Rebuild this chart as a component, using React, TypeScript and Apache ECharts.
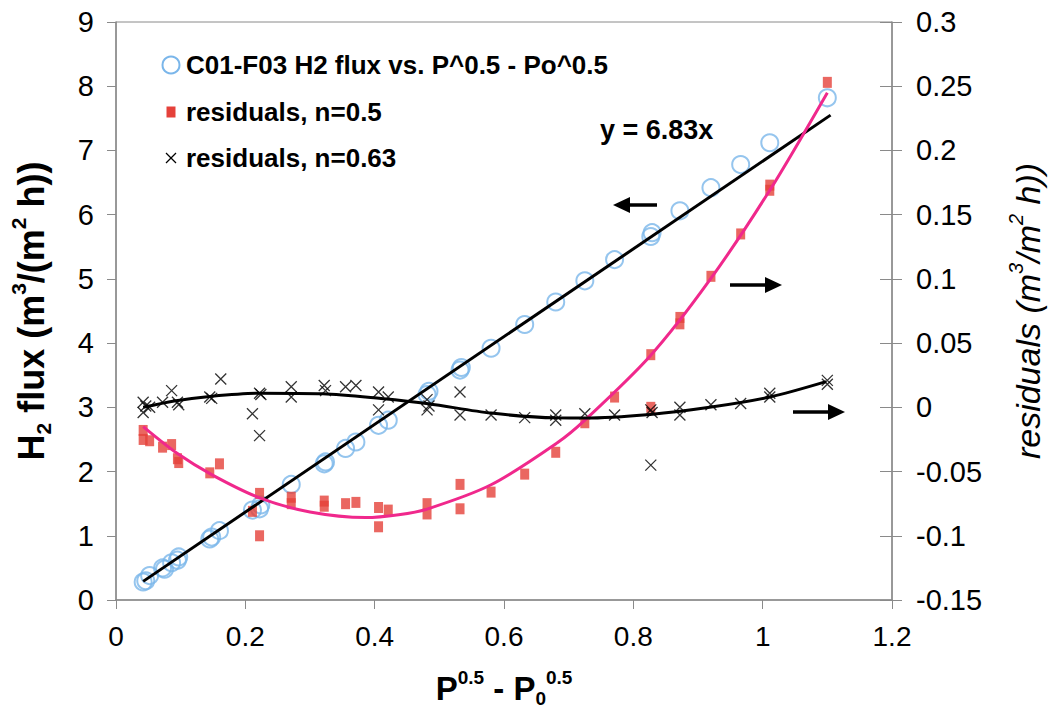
import React, { useEffect, useRef } from "react";
import * as echarts from "echarts";

// ---- Data ----
// H2 flux vs P^0.5 - Po^0.5 (left axis)
const fluxX = [0.042, 0.046, 0.052, 0.072, 0.075, 0.086, 0.095, 0.097, 0.145, 0.148, 0.160, 0.211, 0.222, 0.224, 0.271, 0.322, 0.324, 0.355, 0.371, 0.406, 0.421, 0.481, 0.484, 0.532, 0.534, 0.580, 0.632, 0.680, 0.725, 0.771, 0.827, 0.829, 0.872, 0.920, 0.966, 1.011, 1.100];
const fluxY = [0.28, 0.30, 0.38, 0.50, 0.48, 0.58, 0.62, 0.67, 0.95, 0.98, 1.08, 1.40, 1.42, 1.48, 1.80, 2.12, 2.15, 2.36, 2.46, 2.72, 2.80, 3.20, 3.25, 3.58, 3.62, 3.92, 4.29, 4.64, 4.97, 5.30, 5.66, 5.72, 6.06, 6.42, 6.78, 7.12, 7.82];

// residuals, n=0.5 (right axis)
const res5X = [0.042, 0.042, 0.052, 0.072, 0.086, 0.095, 0.097, 0.145, 0.160, 0.211, 0.222, 0.222, 0.271, 0.271, 0.322, 0.322, 0.355, 0.371, 0.406, 0.406, 0.421, 0.481, 0.481, 0.532, 0.532, 0.580, 0.632, 0.680, 0.725, 0.771, 0.827, 0.827, 0.872, 0.872, 0.920, 0.966, 1.011, 1.011, 1.100];
const res5Y = [-0.018, -0.025, -0.026, -0.031, -0.029, -0.040, -0.043, -0.051, -0.044, -0.081, -0.100, -0.067, -0.070, -0.075, -0.073, -0.077, -0.075, -0.074, -0.078, -0.093, -0.080, -0.075, -0.083, -0.060, -0.079, -0.066, -0.052, -0.035, -0.012, 0.008, 0.041, 0.000, 0.070, 0.065, 0.102, 0.135, 0.173, 0.169, 0.253];

// residuals, n=0.63 (right axis)
const res63X = [0.042, 0.042, 0.046, 0.052, 0.072, 0.086, 0.095, 0.097, 0.145, 0.148, 0.162, 0.211, 0.222, 0.222, 0.224, 0.271, 0.271, 0.322, 0.324, 0.355, 0.371, 0.406, 0.406, 0.421, 0.481, 0.481, 0.484, 0.532, 0.532, 0.580, 0.632, 0.680, 0.680, 0.725, 0.771, 0.827, 0.827, 0.829, 0.872, 0.872, 0.920, 0.966, 1.011, 1.011, 1.100, 1.100];
const res63Y = [0.004, -0.004, 0.001, 0.000, 0.004, 0.013, 0.004, 0.002, 0.008, 0.007, 0.022, -0.005, -0.022, 0.011, 0.010, 0.016, 0.008, 0.017, 0.013, 0.016, 0.017, 0.012, -0.002, 0.008, 0.006, -0.002, 0.001, 0.012, -0.006, -0.006, -0.008, -0.006, -0.010, -0.005, -0.006, -0.002, -0.045, -0.004, 0.000, -0.006, 0.002, 0.003, 0.011, 0.008, 0.021, 0.018];

// linear trend line y = 6.83x (end points)
const linX = [0.042, 1.105];
const linY = [0.29, 7.55];

// fitted curve through residuals n=0.5
const fit5X = [0.042, 0.095, 0.15, 0.222, 0.30, 0.386, 0.437, 0.48, 0.58, 0.683, 0.725, 0.826, 0.918, 1.011, 1.10];
const fit5Y = [-0.015, -0.036, -0.053, -0.0705, -0.0815, -0.0858, -0.0836, -0.0794, -0.0603, -0.0274, -0.010, 0.040, 0.099, 0.169, 0.245];

// fitted curve through residuals n=0.63
const fit63X = [0.042, 0.09, 0.145, 0.222, 0.32, 0.41, 0.483, 0.58, 0.68, 0.725, 0.826, 0.918, 1.011, 1.098];
const fit63Y = [0.000, 0.005, 0.0085, 0.011, 0.0105, 0.0068, 0.0028, -0.0045, -0.0082, -0.0083, -0.0055, 0.000, 0.008, 0.020];

const legendNames = [
  "C01-F03 H2 flux vs. P^0.5 - Po^0.5",
  "residuals, n=0.5",
  "residuals, n=0.63",
];
const trendLabel = "y = 6.83x";

const zip = (xs: number[], ys: number[]) => xs.map((x, i) => [x, ys[i]]);

const AXIS_GRAY = "#8a8a8a";
const BLUE = "#7ab6ea";
const RED = "#e5413a";
const PINK = "#f0288c";
const SANS = "'Liberation Sans', Arial, sans-serif";

export default function App() {
  const ref = useRef<HTMLDivElement>(null);

  useEffect(() => {
    if (!ref.current) return;
    const chart = echarts.init(ref.current, undefined, { renderer: "svg" });

    const fmt = (v: number) => String(parseFloat(v.toFixed(2)));

    const option: any = {
      animation: false,
      backgroundColor: "#ffffff",
      grid: {
        left: 116,
        right: 163,
        top: 22,
        bottom: 116,
        containLabel: false,
        outerBoundsMode: "none",
        show: true,
        borderColor: AXIS_GRAY,
        borderWidth: 1,
        backgroundColor: "transparent",
      },
      xAxis: {
        type: "value",
        min: 0,
        max: 1.2,
        interval: 0.2,
        axisLine: { show: true, onZero: false, lineStyle: { color: AXIS_GRAY, width: 1.5 } },
        axisTick: { show: true, length: 9, lineStyle: { color: AXIS_GRAY } },
        splitLine: { show: false },
        axisLabel: { margin: 22, color: "#000", fontSize: 28, fontFamily: SANS, formatter: fmt },
        name: "{b|P}{sup|0.5}{b| - P}{sub|0}{sup|0.5}",
        nameLocation: "middle",
        nameGap: 68,
        nameTextStyle: {
          color: "#000",
          rich: {
            b: { fontSize: 33, fontWeight: "bold", fontFamily: SANS, color: "#000", lineHeight: 40 },
            sup: { fontSize: 19, fontWeight: "bold", fontFamily: SANS, color: "#000", verticalAlign: "top" },
            sub: { fontSize: 19, fontWeight: "bold", fontFamily: SANS, color: "#000", verticalAlign: "bottom" },
          },
        },
      },
      yAxis: [
        {
          type: "value",
          position: "left",
          min: 0,
          max: 9,
          interval: 1,
          axisLine: { show: true, lineStyle: { color: AXIS_GRAY, width: 1.5 } },
          axisTick: { show: true, length: 9, lineStyle: { color: AXIS_GRAY } },
          splitLine: { show: false },
          axisLabel: { margin: 22, color: "#000", fontSize: 29, fontFamily: SANS, formatter: fmt },
          name: "{b|H}{sub|2}{b| flux (m}{sup|3}{b|/(m}{sup|2}{b| h))}",
          nameLocation: "middle",
          nameRotate: 90,
          nameGap: 62,
          nameTextStyle: {
            color: "#000",
            rich: {
              b: { fontSize: 36, fontWeight: "bold", fontFamily: SANS, color: "#000", lineHeight: 46 },
              sup: { fontSize: 21, fontWeight: "bold", fontFamily: SANS, color: "#000", verticalAlign: "top" },
              sub: { fontSize: 21, fontWeight: "bold", fontFamily: SANS, color: "#000", verticalAlign: "bottom" },
            },
          },
        },
        {
          type: "value",
          position: "right",
          min: -0.15,
          max: 0.3,
          interval: 0.05,
          axisLine: { show: true, lineStyle: { color: AXIS_GRAY, width: 1.5 } },
          axisTick: { show: true, length: 10, lineStyle: { color: AXIS_GRAY } },
          splitLine: { show: false },
          axisLabel: { margin: 24, color: "#000", fontSize: 29, fontFamily: SANS, formatter: fmt },
          name: "{i|residuals (m}{s|3}{i|/m}{s|2}{i| h))}",
          nameLocation: "middle",
          nameRotate: 90,
          nameGap: 114,
          nameTextStyle: {
            color: "#000",
            rich: {
              i: { fontSize: 34, fontStyle: "italic", fontFamily: SANS, color: "#000", lineHeight: 44 },
              s: { fontSize: 20, fontStyle: "italic", fontFamily: SANS, color: "#000", verticalAlign: "top" },
            },
          },
        },
        {
          type: "value",
          position: "right",
          min: -0.15,
          max: 0.3,
          interval: 0.05,
          axisLine: { show: false },
          axisTick: { show: true, inside: true, length: 12, lineStyle: { color: AXIS_GRAY } },
          splitLine: { show: false },
          axisLabel: { show: false },
        },
      ],
      series: [
        {
          name: legendNames[0],
          type: "scatter",
          yAxisIndex: 0,
          symbol: "circle",
          symbolSize: 17,
          itemStyle: { color: "rgba(0,0,0,0)", borderColor: BLUE, borderWidth: 2 },
          data: zip(fluxX, fluxY),
          z: 2,
        },
        {
          name: legendNames[1],
          type: "scatter",
          yAxisIndex: 1,
          symbol: "rect",
          symbolSize: [9, 11],
          itemStyle: { color: RED },
          data: zip(res5X, res5Y),
          z: 2,
        },
        {
          name: legendNames[2],
          type: "scatter",
          yAxisIndex: 1,
          symbol: "path://M0,0L10,10M10,0L0,10",
          symbolSize: 11,
          itemStyle: { color: "none", borderColor: "#000", borderWidth: 1.3 },
          data: zip(res63X, res63Y),
          z: 3,
        },
        {
          name: "linear fit",
          type: "line",
          yAxisIndex: 0,
          showSymbol: false,
          symbol: "none",
          lineStyle: { color: "#000", width: 3 },
          data: zip(linX, linY),
          z: 4,
        },
        {
          name: "fit n=0.5",
          type: "line",
          yAxisIndex: 1,
          showSymbol: false,
          symbol: "none",
          smooth: 0.3,
          lineStyle: { color: PINK, width: 3 },
          data: zip(fit5X, fit5Y),
          z: 4,
        },
        {
          name: "fit n=0.63",
          type: "line",
          yAxisIndex: 1,
          showSymbol: false,
          symbol: "none",
          smooth: 0.3,
          lineStyle: { color: "#000", width: 3 },
          data: zip(fit63X, fit63Y),
          z: 4,
        },
      ],
      graphic: [
        // legend
        { type: "circle", shape: { cx: 171, cy: 65, r: 8.5 }, style: { fill: "none", stroke: BLUE, lineWidth: 2 } },
        { type: "rect", shape: { x: 166.5, y: 106.5, width: 9, height: 11 }, style: { fill: RED } },
        { type: "line", shape: { x1: 166, y1: 153, x2: 176, y2: 163 }, style: { stroke: "#000", lineWidth: 1.3 } },
        { type: "line", shape: { x1: 176, y1: 153, x2: 166, y2: 163 }, style: { stroke: "#000", lineWidth: 1.3 } },
        { type: "text", x: 186, y: 65, style: { text: legendNames[0], fill: "#000", font: `bold 26px ${SANS}`, verticalAlign: "middle", align: "left" } },
        { type: "text", x: 186, y: 112, style: { text: legendNames[1], fill: "#000", font: `bold 26px ${SANS}`, verticalAlign: "middle", align: "left" } },
        { type: "text", x: 186, y: 158, style: { text: legendNames[2], fill: "#000", font: `bold 26px ${SANS}`, verticalAlign: "middle", align: "left" } },
        // trend equation
        { type: "text", x: 600, y: 130, style: { text: trendLabel, fill: "#000", font: `bold 27px ${SANS}`, verticalAlign: "middle", align: "left" } },
        // arrows
        { type: "line", shape: { x1: 657, y1: 205, x2: 628, y2: 205 }, style: { stroke: "#000", lineWidth: 3.5 } },
        { type: "polygon", shape: { points: [[613, 205], [630, 197], [630, 213]] }, style: { fill: "#000" } },
        { type: "line", shape: { x1: 730, y1: 285, x2: 767, y2: 285 }, style: { stroke: "#000", lineWidth: 3.5 } },
        { type: "polygon", shape: { points: [[782, 285], [765, 277], [765, 293]] }, style: { fill: "#000" } },
        { type: "line", shape: { x1: 793, y1: 412, x2: 830, y2: 412 }, style: { stroke: "#000", lineWidth: 3.5 } },
        { type: "polygon", shape: { points: [[845, 412], [828, 404], [828, 420]] }, style: { fill: "#000" } },
      ],
    };

    chart.setOption(option);
    return () => {
      chart.dispose();
    };
  }, []);

  return (
    <div
      ref={ref}
      style={{ position: "fixed", left: 0, top: 0, width: 1055, height: 716, background: "#fff" }}
    />
  );
}
